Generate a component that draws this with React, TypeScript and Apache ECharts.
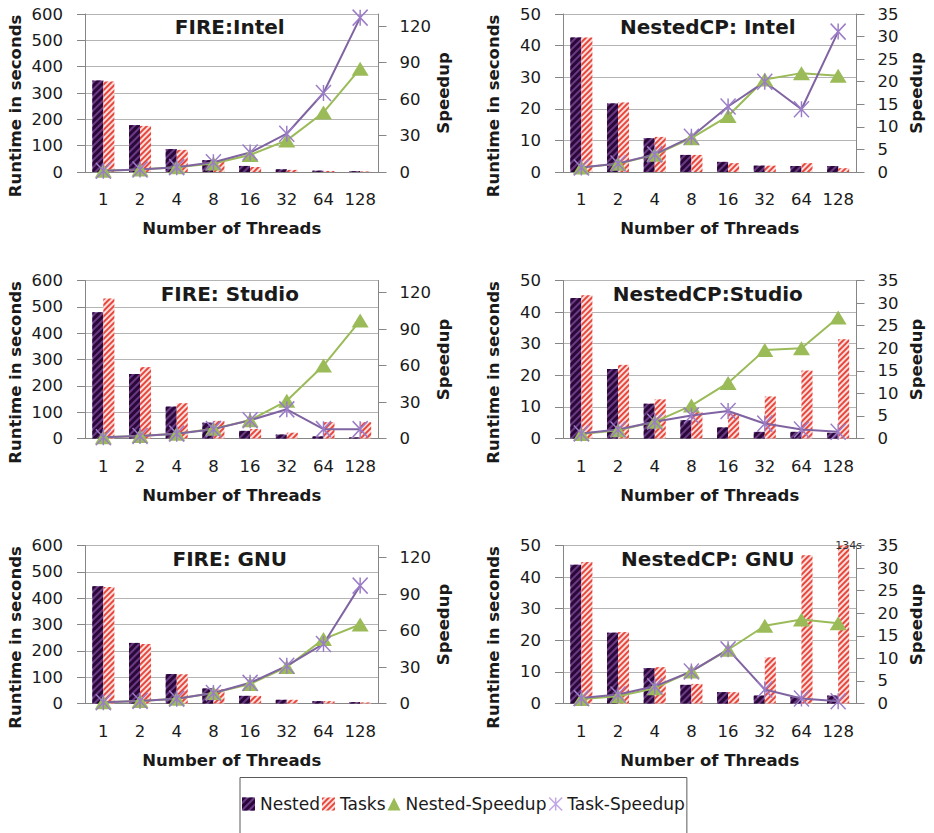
import React, { useEffect, useRef } from "react";
import * as echarts from "echarts";

// ---------- data ----------
const categories = ["1", "2", "4", "8", "16", "32", "64", "128"];

const fireIntelNested = [347, 178, 87, 45, 23, 10, 5, 3];
const fireIntelTasks = [344, 175, 84, 42, 19, 8, 4, 2];
const fireIntelNestedSpeedup = [1, 2, 4, 7, 14, 26, 49, 85];
const fireIntelTaskSpeedup = [1, 2, 4, 8, 16, 31.5, 65, 127];

const cpIntelNested = [42.6, 21.7, 10.7, 5.4, 3.2, 2.0, 1.9, 1.9];
const cpIntelTasks = [42.6, 22.0, 11.1, 5.4, 2.8, 2.0, 2.8, 1.2];
const cpIntelNestedSpeedup = [1, 1.8, 3.8, 7.5, 12.4, 20.5, 21.9, 21.3];
const cpIntelTaskSpeedup = [1, 1.9, 3.9, 7.8, 14.5, 20, 13.9, 31.1];

const fireStudioNested = [479, 245, 121, 60, 29, 15, 8, 4];
const fireStudioTasks = [532, 271, 134, 67, 36, 22, 62, 62];
const fireStudioNestedSpeedup = [1, 2, 4, 8, 15, 31, 60, 97];
const fireStudioTaskSpeedup = [1, 2, 4, 7.7, 15, 24, 7.7, 7.7];

const cpStudioNested = [44.5, 22, 11, 5.8, 3.5, 2.1, 2.1, 1.8];
const cpStudioTasks = [45.3, 23.3, 12.4, 8.4, 8, 13.3, 21.5, 31.4];
const cpStudioNestedSpeedup = [1, 1.8, 3.7, 7.3, 12.3, 19.6, 20, 26.8];
const cpStudioTaskSpeedup = [1.1, 2, 3.7, 5.1, 6.1, 3.3, 2, 1.5];

const fireGnuNested = [445, 230, 112, 57, 29, 14, 9, 5];
const fireGnuTasks = [442, 226, 111, 54, 29, 14, 9, 4];
const fireGnuNestedSpeedup = [1, 2, 4, 8.7, 16, 30, 53, 65];
const fireGnuTaskSpeedup = [1, 2, 4, 8.7, 17, 31, 49, 97];

const cpGnuNested = [43.9, 22.4, 11.2, 5.9, 3.6, 2.5, 2.1, 2.5];
const cpGnuTasks = [44.8, 22.6, 11.5, 6.2, 3.6, 14.6, 46.9, 134];
const cpGnuNestedSpeedup = [1, 1.6, 3.4, 7.1, 11.9, 17.2, 18.6, 17.8];
const cpGnuTaskSpeedup = [1.2, 2, 3.8, 7.1, 12, 3.1, 1.1, 0.5];

const fireRuntimeTicks = [0, 100, 200, 300, 400, 500, 600];
const fireSpeedupTicks = [0, 30, 60, 90, 120];
const cpRuntimeTicks = [0, 10, 20, 30, 40, 50];
const cpSpeedupTicks = [0, 5, 10, 15, 20, 25, 30, 35];

const panels = [
  { title: "FIRE:Intel", fire: true, nested: fireIntelNested, tasks: fireIntelTasks, ns: fireIntelNestedSpeedup, ts: fireIntelTaskSpeedup },
  { title: "NestedCP: Intel", fire: false, nested: cpIntelNested, tasks: cpIntelTasks, ns: cpIntelNestedSpeedup, ts: cpIntelTaskSpeedup },
  { title: "FIRE: Studio", fire: true, nested: fireStudioNested, tasks: fireStudioTasks, ns: fireStudioNestedSpeedup, ts: fireStudioTaskSpeedup },
  { title: "NestedCP:Studio", fire: false, nested: cpStudioNested, tasks: cpStudioTasks, ns: cpStudioNestedSpeedup, ts: cpStudioTaskSpeedup },
  { title: "FIRE: GNU", fire: true, nested: fireGnuNested, tasks: fireGnuTasks, ns: fireGnuNestedSpeedup, ts: fireGnuTaskSpeedup },
  { title: "NestedCP: GNU", fire: false, nested: cpGnuNested, tasks: cpGnuTasks, ns: cpGnuNestedSpeedup, ts: cpGnuTaskSpeedup },
];

// ---------- style ----------
const FONT = "DejaVu Sans";
const TEXT = "#1a1a1a";
const AXIS = "#868686";
const GRID = "#b4b4b4";
const GREEN = "#9bbb59";
const PURPLE = "#8064a2";
const STAR_COLOR = "#9b7cc8";
const STAR = "path://M0,0L10,10M10,0L0,10M5,0L5,10";

const COL_LEFT = [85, 563];
const ROW_TOP = [14, 280.5, 545.5];
const W = 293.5;
const H = 158;

const nestedStyle = {
  color: "#6b3a84",
  decal: {
    symbol: "rect",
    symbolSize: 1,
    color: "#2a0839",
    dashArrayX: [1, 0],
    dashArrayY: [2.5, 1.2],
    rotation: -Math.PI / 4,
  },
};
const tasksStyle = {
  color: "#fbe0de",
  decal: {
    symbol: "rect",
    symbolSize: 1,
    color: "#e8473d",
    dashArrayX: [1, 0],
    dashArrayY: [1.8, 1.4],
    rotation: -Math.PI / 4,
  },
};

function buildOption() {
  const grid: any[] = [];
  const xAxis: any[] = [];
  const yAxis: any[] = [];
  const series: any[] = [];
  const graphic: any[] = [];

  panels.forEach((p, i) => {
    const col = i % 2;
    const row = Math.floor(i / 2);
    const left = COL_LEFT[col];
    const top = ROW_TOP[row];
    grid.push({ left, top, width: W, height: H });

    const labelStyle = { color: TEXT, fontSize: 16.5, fontFamily: FONT };
    const nameStyle = { color: TEXT, fontSize: 16.5, fontFamily: FONT, fontWeight: "bold" };

    xAxis.push({
      type: "category",
      gridIndex: i,
      data: categories,
      axisLine: { lineStyle: { color: AXIS } },
      axisTick: { length: 8, lineStyle: { color: AXIS } },
      axisLabel: { ...labelStyle, margin: 19, interval: 0 },
      name: "Number of Threads",
      nameLocation: "middle",
      nameGap: 48,
      nameTextStyle: nameStyle,
    });

    const rTicks = p.fire ? fireRuntimeTicks : cpRuntimeTicks;
    const sTicks = p.fire ? fireSpeedupTicks : cpSpeedupTicks;
    yAxis.push({
      type: "value",
      gridIndex: i,
      position: "left",
      min: rTicks[0],
      max: rTicks[rTicks.length - 1],
      interval: rTicks[1] - rTicks[0],
      axisLine: { show: true, lineStyle: { color: AXIS } },
      axisTick: { show: true, length: 8, lineStyle: { color: AXIS } },
      splitLine: { show: true, lineStyle: { color: GRID } },
      axisLabel: { ...labelStyle, margin: 22 },
    });
    yAxis.push({
      type: "value",
      gridIndex: i,
      position: "right",
      min: sTicks[0],
      max: p.fire ? 130 : sTicks[sTicks.length - 1],
      interval: sTicks[1] - sTicks[0],
      axisLine: { show: true, lineStyle: { color: AXIS } },
      axisTick: { show: true, length: 8, lineStyle: { color: AXIS }, customValues: sTicks },
      splitLine: { show: false },
      axisLabel: { ...labelStyle, margin: 21, customValues: sTicks },
      name: "Speedup",
      nameLocation: "middle",
      nameGap: 51,
      nameRotate: 90,
      nameTextStyle: nameStyle,
    });

    series.push({
      name: "Nested",
      type: "bar",
      xAxisIndex: i,
      yAxisIndex: 2 * i,
      data: p.nested,
      barGap: "0%",
      barCategoryGap: "40%",
      itemStyle: nestedStyle,
    });
    const tasksSeries: any = {
      name: "Tasks",
      type: "bar",
      xAxisIndex: i,
      yAxisIndex: 2 * i,
      data: p.tasks,
      barGap: "0%",
      barCategoryGap: "40%",
      itemStyle: tasksStyle,
      clip: true,
    };
    const ymax = rTicks[rTicks.length - 1];
    const over = p.tasks
      .map((v, k) => ({ v, k }))
      .filter((o) => o.v > ymax);
    if (over.length) {
      tasksSeries.markPoint = {
        symbol: "circle",
        symbolSize: 0,
        itemStyle: { color: "transparent" },
        data: over.map((o) => ({ coord: [categories[o.k], ymax], value: o.v })),
        label: {
          show: true,
          position: "inside",
          offset: [5, 0],
          formatter: (d: any) => `${d.value}s`,
          fontSize: 11,
          fontFamily: FONT,
          color: "#333",
        },
      };
    }
    series.push(tasksSeries);
    series.push({
      name: "Nested-Speedup",
      type: "line",
      xAxisIndex: i,
      yAxisIndex: 2 * i + 1,
      data: p.ns,
      symbol: "triangle",
      symbolSize: [17, 14],
      itemStyle: { color: GREEN },
      lineStyle: { color: GREEN, width: 2 },
    });
    series.push({
      name: "Task-Speedup",
      type: "line",
      xAxisIndex: i,
      yAxisIndex: 2 * i + 1,
      data: p.ts,
      symbol: STAR,
      symbolSize: [15, 16],
      itemStyle: { color: STAR_COLOR, borderColor: STAR_COLOR, borderWidth: 1.5 },
      lineStyle: { color: PURPLE, width: 2 },
    });

    graphic.push({
      type: "text",
      x: left + W / 2 - 2,
      y: top + 13,
      style: {
        text: p.title,
        align: "center",
        verticalAlign: "middle",
        font: `bold 20px "${FONT}"`,
        fill: TEXT,
      },
    });
    graphic.push({
      type: "text",
      x: left - 70,
      y: top + 92,
      rotation: Math.PI / 2,
      style: {
        text: "Runtime in seconds",
        align: "center",
        verticalAlign: "middle",
        font: `bold 16.5px "${FONT}"`,
        fill: TEXT,
      },
    });
  });

  return {
    animation: false,
    backgroundColor: "#ffffff",
    grid,
    xAxis,
    yAxis,
    series,
    graphic,
    legend: {
      left: 240,
      top: 777.5,
      orient: "horizontal",
      selectedMode: false,
      itemWidth: 13,
      itemHeight: 13,
      itemGap: 2,
      padding: [18, 2, 30, 2],
      borderColor: "#5a5a5a",
      borderWidth: 1,
      textStyle: { color: TEXT, fontSize: 17, fontFamily: FONT },
      data: [
        { name: "Nested", icon: "rect" },
        { name: "Tasks", icon: "rect" },
        { name: "Nested-Speedup", icon: "triangle" },
        { name: "Task-Speedup", icon: STAR, itemStyle: { color: "#c0a8e4", borderColor: "#c0a8e4", borderWidth: 1.5 } },
      ],
    },
  };
}

export default function App() {
  const ref = useRef<HTMLDivElement>(null);
  useEffect(() => {
    if (!ref.current) return;
    const chart = echarts.init(ref.current, undefined, { renderer: "svg" });
    chart.setOption(buildOption() as any);
    return () => chart.dispose();
  }, []);
  return (
    <div style={{ position: "fixed", left: 0, top: 0, width: 934, height: 833, background: "#fff" }}>
      <div ref={ref} style={{ width: 934, height: 833 }} />
    </div>
  );
}
